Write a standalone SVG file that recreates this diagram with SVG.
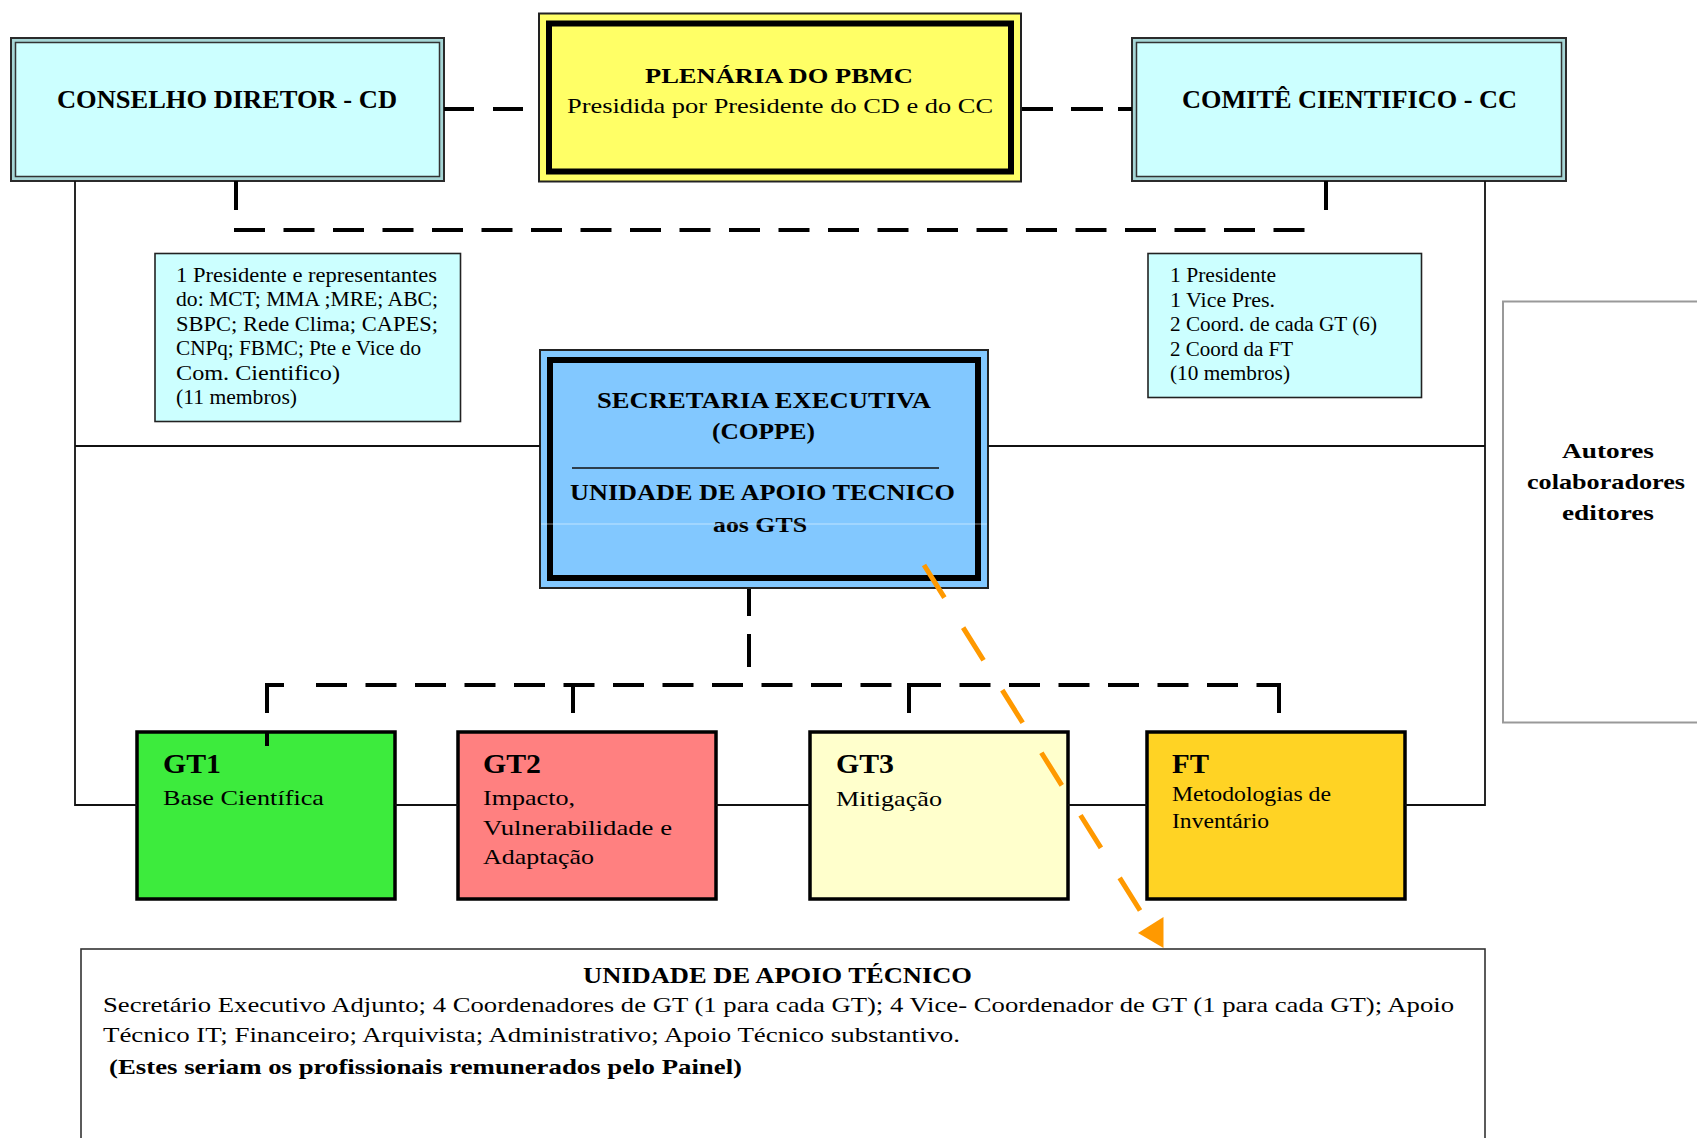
<svg xmlns="http://www.w3.org/2000/svg" width="1697" height="1138" viewBox="0 0 1697 1138">
<style>
.t{font-family:"Liberation Serif","Times New Roman",serif;fill:#000}
.b{font-weight:bold}
.thin{stroke:#111;stroke-width:1.8;fill:none}
.dk{stroke:#000;stroke-width:4;fill:none}
.dd{stroke:#000;stroke-width:4;fill:none;stroke-dasharray:31 18.5}
.cyan{fill:#CCFFFF}
.gt{stroke:#000;stroke-width:3.5}
.or{stroke:#FF9900;stroke-width:5;fill:none;stroke-dasharray:38.5 35.3}
</style>
<rect width="1697" height="1138" fill="#fff"/>

<g id="cd">
<rect x="11" y="38" width="433" height="143" fill="#A6D6D6" stroke="#2b2b2b" stroke-width="2"/>
<rect x="15.5" y="42.5" width="424" height="134" class="cyan" stroke="#333" stroke-width="1.5"/>
<text class="t b" x="57" y="108" font-size="25" textLength="340" lengthAdjust="spacingAndGlyphs">CONSELHO DIRETOR - CD</text>
</g>

<g id="plenaria">
<rect x="539" y="13.5" width="482" height="168" fill="#FFFF66" stroke="#222" stroke-width="2"/>
<rect x="549" y="23.5" width="462" height="148" fill="none" stroke="#000" stroke-width="6"/>
<text class="t b" x="645" y="83" font-size="22" textLength="268" lengthAdjust="spacingAndGlyphs">PLENÁRIA DO PBMC</text>
<text class="t" x="567" y="113" font-size="22" textLength="426" lengthAdjust="spacingAndGlyphs">Presidida por Presidente do CD e do CC</text>
</g>

<g id="cc">
<rect x="1132" y="38" width="434" height="143" fill="#A6D6D6" stroke="#2b2b2b" stroke-width="2"/>
<rect x="1136.5" y="42.5" width="425" height="134" class="cyan" stroke="#333" stroke-width="1.5"/>
<text class="t b" x="1182" y="108" font-size="25" textLength="335" lengthAdjust="spacingAndGlyphs">COMITÊ CIENTIFICO - CC</text>
</g>

<g id="cd-info">
<rect x="155" y="253.5" width="305.5" height="168" class="cyan" stroke="#222" stroke-width="1.6"/>
<text class="t" font-size="20" x="176" y="282" textLength="261" lengthAdjust="spacingAndGlyphs">1  Presidente e representantes</text>
<text class="t" font-size="20" x="176" y="306.4" textLength="262" lengthAdjust="spacingAndGlyphs">do:  MCT; MMA ;MRE; ABC;</text>
<text class="t" font-size="20" x="176" y="330.8" textLength="262" lengthAdjust="spacingAndGlyphs">SBPC; Rede Clima; CAPES;</text>
<text class="t" font-size="20" x="176" y="355.2" textLength="245" lengthAdjust="spacingAndGlyphs">CNPq; FBMC; Pte e Vice do</text>
<text class="t" font-size="20" x="176" y="379.6" textLength="164" lengthAdjust="spacingAndGlyphs">Com. Cientifico)</text>
<text class="t" font-size="20" x="176" y="404" textLength="121" lengthAdjust="spacingAndGlyphs">(11 membros)</text>
</g>

<g id="cc-info">
<rect x="1148" y="253.5" width="273.5" height="144" class="cyan" stroke="#222" stroke-width="1.6"/>
<text class="t" font-size="20" x="1170" y="282" textLength="106" lengthAdjust="spacingAndGlyphs">1 Presidente</text>
<text class="t" font-size="20" x="1170" y="306.5" textLength="105" lengthAdjust="spacingAndGlyphs">1 Vice Pres.</text>
<text class="t" font-size="20" x="1170" y="331" textLength="207" lengthAdjust="spacingAndGlyphs">2 Coord. de cada GT (6)</text>
<text class="t" font-size="20" x="1170" y="355.5" textLength="123" lengthAdjust="spacingAndGlyphs">2 Coord da FT</text>
<text class="t" font-size="20" x="1170" y="380" textLength="120" lengthAdjust="spacingAndGlyphs">(10 membros)</text>
</g>

<g id="secretaria">
<rect x="540" y="350" width="448" height="238" fill="#82C8FF" stroke="#222" stroke-width="2"/>
<rect x="550" y="360" width="428" height="218" fill="none" stroke="#000" stroke-width="6"/>
<text class="t b" x="597" y="408" font-size="24" textLength="334" lengthAdjust="spacingAndGlyphs">SECRETARIA EXECUTIVA</text>
<text class="t b" x="712" y="439" font-size="24" textLength="103" lengthAdjust="spacingAndGlyphs">(COPPE)</text>
<line x1="572" y1="468" x2="939" y2="468" stroke="#111" stroke-width="1.6"/>
<text class="t b" x="570" y="500" font-size="24" textLength="385" lengthAdjust="spacingAndGlyphs">UNIDADE DE APOIO TECNICO</text>
<text class="t b" x="713" y="532" font-size="20" textLength="94" lengthAdjust="spacingAndGlyphs">aos GTS</text>
<line x1="541" y1="524" x2="987" y2="524" stroke="#fff" stroke-opacity="0.5" stroke-width="1"/>
</g>

<g id="gt1">
<rect x="137" y="732" width="258" height="167" fill="#3DEB3D" class="gt"/>
<text class="t b" x="163" y="773" font-size="27" textLength="58" lengthAdjust="spacingAndGlyphs">GT1</text>
<text class="t" x="163" y="805" font-size="21" textLength="161" lengthAdjust="spacingAndGlyphs">Base Científica</text>
</g>

<g id="gt2">
<rect x="458" y="732" width="258" height="167" fill="#FF8080" class="gt"/>
<text class="t b" x="483" y="773" font-size="27" textLength="58" lengthAdjust="spacingAndGlyphs">GT2</text>
<text class="t" x="483" y="805" font-size="21" textLength="92" lengthAdjust="spacingAndGlyphs">Impacto,</text>
<text class="t" x="483" y="835" font-size="21" textLength="189" lengthAdjust="spacingAndGlyphs">Vulnerabilidade e</text>
<text class="t" x="483" y="864" font-size="21" textLength="111" lengthAdjust="spacingAndGlyphs">Adaptação</text>
</g>

<g id="gt3">
<rect x="810" y="732" width="258" height="167" fill="#FFFFCC" class="gt"/>
<text class="t b" x="836" y="773" font-size="27" textLength="58" lengthAdjust="spacingAndGlyphs">GT3</text>
<text class="t" x="836" y="806" font-size="21" textLength="106" lengthAdjust="spacingAndGlyphs">Mitigação</text>
</g>

<g id="ft">
<rect x="1147" y="732" width="258" height="167" fill="#FFD324" class="gt"/>
<text class="t b" x="1172" y="773" font-size="27" textLength="37" lengthAdjust="spacingAndGlyphs">FT</text>
<text class="t" x="1172" y="801" font-size="21" textLength="159" lengthAdjust="spacingAndGlyphs">Metodologias de</text>
<text class="t" x="1172" y="828" font-size="21" textLength="97" lengthAdjust="spacingAndGlyphs">Inventário</text>
</g>

<g id="autores">
<rect x="1503" y="301.5" width="220" height="421" fill="#fff" stroke="#999" stroke-width="2"/>
<text class="t b" x="1562" y="458" font-size="21" textLength="92" lengthAdjust="spacingAndGlyphs">Autores</text>
<text class="t b" x="1527" y="489" font-size="21" textLength="158" lengthAdjust="spacingAndGlyphs">colaboradores</text>
<text class="t b" x="1562" y="520" font-size="21" textLength="92" lengthAdjust="spacingAndGlyphs">editores</text>
</g>

<g id="unidade-apoio">
<rect x="81" y="949" width="1404" height="200" fill="#fff" stroke="#333" stroke-width="1.6"/>
<text class="t b" x="583" y="983" font-size="23" textLength="389" lengthAdjust="spacingAndGlyphs">UNIDADE DE APOIO TÉCNICO</text>
<text class="t" x="103" y="1012" font-size="22" textLength="1351" lengthAdjust="spacingAndGlyphs">Secretário Executivo Adjunto; 4 Coordenadores de GT (1 para cada GT); 4 Vice- Coordenador de GT (1 para cada GT); Apoio</text>
<text class="t" x="103" y="1042" font-size="22" textLength="857" lengthAdjust="spacingAndGlyphs">Técnico IT; Financeiro; Arquivista; Administrativo; Apoio Técnico substantivo.</text>
<text class="t b" x="109" y="1074" font-size="21" textLength="633" lengthAdjust="spacingAndGlyphs">(Estes seriam os profissionais remunerados pelo Painel)</text>
</g>

<g id="connectors">
<polyline class="thin" points="75,181 75,805 137,805"/>
<polyline class="thin" points="1485,181 1485,805 1405,805"/>
<line class="thin" x1="75" y1="446" x2="540" y2="446"/>
<line class="thin" x1="988" y1="446" x2="1485" y2="446"/>
<line class="thin" x1="395" y1="805" x2="458" y2="805"/>
<line class="thin" x1="716" y1="805" x2="810" y2="805"/>
<line class="thin" x1="1068" y1="805" x2="1147" y2="805"/>
<path class="dk" d="M444,109H474M493,109H523M1022,109H1053M1071,109H1103M1118,109H1132"/>
<line class="dk" x1="236" y1="181" x2="236" y2="210"/>
<line class="dk" x1="1326" y1="181" x2="1326" y2="210"/>
<line class="dd" x1="234" y1="230" x2="1306" y2="230"/>
<path class="dk" d="M749,589V616M749,634V667"/>
<line class="dd" x1="316" y1="685" x2="1279" y2="685" stroke-dasharray="31 18.6"/>
<path class="dk" d="M267,685H284M267,683V713M267,731V746M573,685V713M909,683V713M1279,683V713"/>
<line class="or" x1="924" y1="565" x2="1141" y2="912"/>
<polygon points="1138,933 1163.5,917 1163.5,948" fill="#FF9900"/>
</g>
</svg>
